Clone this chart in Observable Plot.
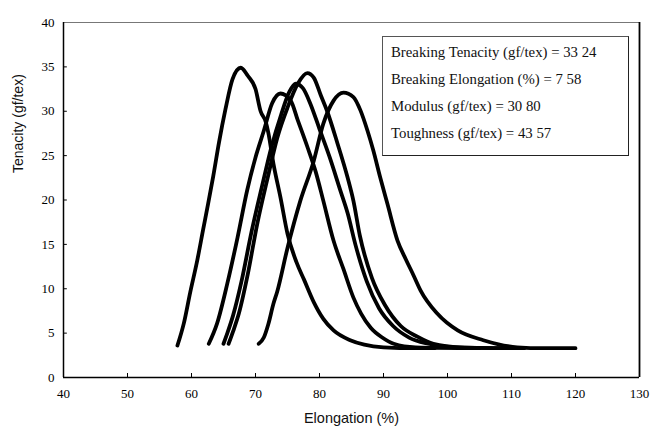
<!DOCTYPE html>
<html>
<head>
<meta charset="utf-8">
<script src="https://cdn.jsdelivr.net/npm/d3@7"></script>
<script src="https://cdn.jsdelivr.net/npm/@observablehq/plot@0.6"></script>
<style>
  body { margin: 0; background: #fff; }
  #wrap { position: relative; width: 654px; height: 429px; }
  #legend {
    position: absolute; left: 382px; top: 36px; width: 247px; height: 120px;
    box-sizing: border-box; border: 1px solid #555; border-right-color: #222; border-bottom: 1.5px solid #222;
    background: #fff; font-family: "Liberation Serif", "Times New Roman", serif; font-size: 14.8px;
    line-height: 27px; padding: 2px 0 0 8px; color: #111; white-space: nowrap;
  }
</style>
</head>
<body>
<div id="wrap"><div id="legend"></div></div>
<script>
// ---- data ----
const xTicks = [40, 50, 60, 70, 80, 90, 100, 110, 120, 130];
const yTicks = [0, 5, 10, 15, 20, 25, 30, 35, 40];
const legendLines = [
  "Breaking Tenacity (gf/tex) = 33 24",
  "Breaking Elongation (%) = 7 58",
  "Modulus (gf/tex) = 30 80",
  "Toughness (gf/tex) = 43 57"
];
const curveA = [[57.8,3.6],[58.8,6.1],[59.8,9.6],[60.9,13.2],[61.8,16.6],[62.6,19.6],[63.4,22.7],[64.3,26.5],[65.3,30.2],[66.4,33.6],[67.7,34.9],[68.8,34.0],[70.0,32.5],[70.8,30.0],[71.6,28.8],[72.0,27.6],[72.8,24.1],[73.9,20.3],[75.0,16.2],[76.4,13.0],[77.6,11.0],[79.1,8.5],[80.6,6.6],[82.2,5.3],[84.8,4.2],[87.0,3.7],[90,3.4],[95,3.3],[98,3.3]];
const curveB = [[62.7,3.8],[64.0,6.1],[65.6,10.6],[67.2,15.8],[68.7,21.1],[70.0,24.8],[71.3,27.8],[72.6,30.9],[73.9,32.0],[75.5,31.2],[76.6,29.0],[78.1,26.0],[79.4,23.2],[80.6,19.9],[82.2,15.4],[83.75,12.2],[85.3,9.0],[86.5,7.2],[88,5.6],[89.8,4.5],[91.6,3.8],[95,3.4],[105,3.3]];
const curveC = [[65.8,3.8],[66.5,5.2],[67.4,7.2],[68.7,11.3],[70.3,17.4],[71.9,22.5],[73.4,27.0],[75.0,30.4],[76.6,33.1],[78.1,34.3],[79.1,33.8],[80.2,31.8],[81.2,30.0],[82.8,26.4],[84.4,22.5],[85.3,19.9],[86.3,16.0],[88.2,11.2],[90.2,8.2],[92.7,5.8],[95.3,4.6],[97.8,3.8],[102,3.4],[110,3.3]];
const curveD = [[65.0,3.8],[65.6,5.0],[66.5,7.0],[67.8,10.8],[69.4,16.5],[71.0,21.5],[72.5,26.0],[74.0,29.6],[75.3,32.2],[76.3,33.1],[77.4,32.6],[78.6,30.8],[80.0,28.0],[81.6,24.8],[83.2,21.2],[84.4,18.5],[85.6,15.0],[87.4,10.8],[89.3,7.8],[91.5,5.8],[94,4.5],[97,3.8],[101,3.4],[112,3.3]];
const curveE = [[70.5,3.8],[71.3,4.5],[72.0,6.0],[72.8,8.3],[73.4,9.7],[75.0,14.6],[77.0,19.9],[79.1,24.4],[80.6,28.6],[82.2,31.2],[83.75,32.1],[85.3,31.6],[86.4,30.1],[87.5,27.8],[88.4,25.6],[89.5,22.5],[90.6,19.6],[92.2,15.4],[93.5,13.3],[94.7,11.5],[95.8,9.8],[98.4,7.2],[101.6,5.3],[105.6,4.2],[110.9,3.4],[115,3.3],[120,3.3]];

const curves = {A: curveA, B: curveB, C: curveC, D: curveD, E: curveE};
const rows = Object.entries(curves).flatMap(([k, pts]) => pts.map(([x, y]) => ({series: k, x, y})));

const plot = Plot.plot({
  width: 654, height: 429,
  marginLeft: 63, marginRight: 15, marginTop: 22, marginBottom: 52,
  x: {domain: [40, 130]},
  y: {domain: [0, 40]},
  style: {fontFamily: "'Liberation Serif', serif", fontSize: "13px", color: "#000", background: "transparent"},
  marks: [
    Plot.axisX({ticks: xTicks, tickSize: 0, tickPadding: 11, label: null, tickFormat: d => String(d)}),
    Plot.axisY({ticks: yTicks, tickSize: 0, tickPadding: 9, label: null}),
    Plot.ruleX(xTicks, {y1: 0, y2: 0.45, stroke: "#000"}),
    Plot.ruleY(yTicks, {x1: 40, x2: 40.6, stroke: "#000"}),
    Plot.ruleY([40], {stroke: "#777"}),
    Plot.ruleX([130], {stroke: "#000", strokeWidth: 1.8}),
    Plot.ruleX([40], {stroke: "#000", strokeWidth: 1.5}),
    Plot.ruleY([0], {stroke: "#000", strokeWidth: 1.5}),
    Plot.line(rows, {x: "x", y: "y", z: "series", stroke: "#000", strokeWidth: 3.8, curve: "monotone-x"}),
    Plot.text(["Tenacity (gf/tex)"], {frameAnchor: "left", dx: -45, dy: -27, rotate: -90,
      fontFamily: "'Liberation Sans', Arial, sans-serif", fontSize: 14, fill: "#111"}),
    Plot.text(["Elongation (%)"], {frameAnchor: "bottom", dy: 41, lineAnchor: "middle",
      fontFamily: "'Liberation Sans', Arial, sans-serif", fontSize: 14.5, fill: "#111"})
  ]
});
document.getElementById("wrap").prepend(plot);
const leg = document.getElementById("legend");
legendLines.forEach(t => { const d = document.createElement("div"); d.textContent = t; leg.appendChild(d); });
</script>
</body>
</html>
